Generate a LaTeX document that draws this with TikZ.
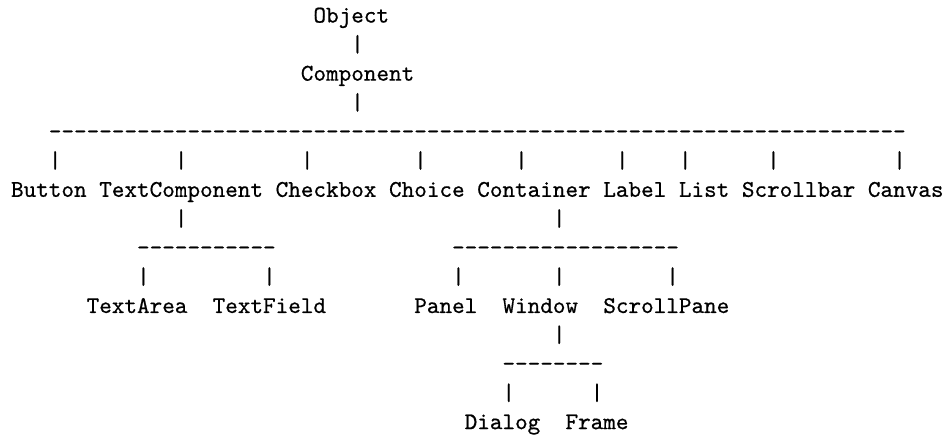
\documentclass[tikz,border=0pt]{standalone}
\usepackage{fontspec}
\setmonofont{Latin Modern Mono}[FakeBold=0.6]

\tikzset{cell/.style={font=\ttfamily, inner sep=0pt, outer sep=0pt, anchor=base west}}
\newcommand\dashrow[1]{\foreach \i in {1,...,#1}{\hbox{-}}}

\begin{document}
\begin{tikzpicture}[x=5.25pt, y=-12.1pt]
    \useasboundingbox (-4.6pt,9.4pt) rectangle (391.2pt,-172.7pt);

    \node[cell] (object) at (24,0) {Object};
    \node[cell] (object-down) at (27,1) {|};
    \node[cell] (component) at (23,2) {Component};
    \node[cell] (component-down) at (27,3) {|};
    \node[cell] (component-line) at (3,4) {\dashrow{68}};

    \foreach \c/\n in {3/button, 13/textcomp, 23/checkbox, 32/choice, 40/container,
                       48/label, 53/list, 60/scrollbar, 70/canvas}
      \node[cell] (\n-up) at (\c,5) {|};
    \foreach \c/\n/\t in {0/button/Button, 7/textcomp/TextComponent, 21/checkbox/Checkbox,
                          30/choice/Choice, 37/container/Container, 47/label/Label,
                          53/list/List, 58/scrollbar/Scrollbar, 68/canvas/Canvas}
      \node[cell] (\n) at (\c,6) {\t};

    % second level
    \node[cell] (textcomp-down) at (13,7) {|};
    \node[cell] (container-down) at (43,7) {|};
    \node[cell] (textcomp-line) at (10,8) {\dashrow{11}};
    \node[cell] (container-line) at (35,8) {\dashrow{18}};
    \foreach \c/\n in {10/textarea, 20/textfield, 35/panel, 43/window, 52/scrollpane}
      \node[cell] (\n-up) at (\c,9) {|};
    \foreach \c/\n/\t in {6/textarea/TextArea, 16/textfield/TextField, 32/panel/Panel,
                          39/window/Window, 47/scrollpane/ScrollPane}
      \node[cell] (\n) at (\c,10) {\t};

    % third level
    \node[cell] (window-down) at (43,11) {|};
    \node[cell] (window-line) at (39,12) {\dashrow{8}};
    \node[cell] (dialog-up) at (39,13) {|};
    \node[cell] (frame-up) at (46,13) {|};
    \node[cell] (dialog) at (36,14) {Dialog};
    \node[cell] (frame) at (44,14) {Frame};
\end{tikzpicture}
\end{document}
